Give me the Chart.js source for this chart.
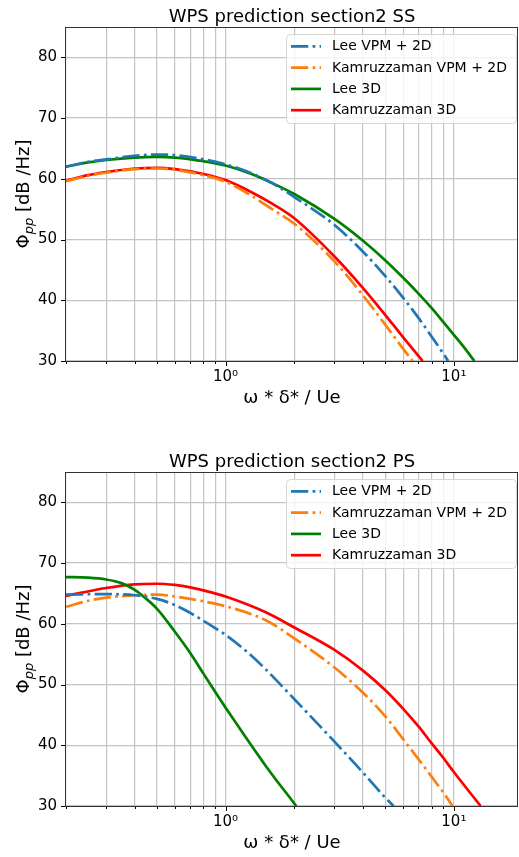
<!DOCTYPE html>
<html>
<head>
<meta charset="utf-8">
<script src="https://cdn.jsdelivr.net/npm/chart.js@4.4.0/dist/chart.umd.min.js"></script>
<style>
  html, body { margin: 0; padding: 0; background: #fff; }
  #wrap { position: relative; width: 519px; height: 857px; overflow: hidden; }
  canvas { position: absolute; left: 0; }
</style>
</head>
<body>
<div id="wrap">
  <canvas id="chart-ss" width="519" height="445" style="top:0"></canvas>
  <canvas id="chart-ps" width="519" height="412" style="top:445px"></canvas>
</div>
<script>
// ---- data ----
const seriesLabels = ['Lee VPM + 2D', 'Kamruzzaman VPM + 2D', 'Lee 3D', 'Kamruzzaman 3D'];
const xTicks = [0.2, 0.3, 0.4, 0.5, 0.6, 0.7, 0.8, 0.9, 1, 2, 3, 4, 5, 6, 7, 8, 9, 10];
const yTicks = [30, 40, 50, 60, 70, 80];

// section2 SS
const ssLeeVpmX = [0.2, 0.25, 0.3, 0.4, 0.5, 0.6, 0.8, 1.0, 1.3, 1.6, 2.0, 3.0, 4.0, 5.0, 6.0, 7.0, 8.0, 9.0, 9.44];
const ssLeeVpmY = [62.0, 62.8, 63.2, 63.8, 64.0, 63.9, 63.2, 62.4, 60.9, 59.3, 57.0, 52.4, 48.0, 44.0, 40.4, 37.1, 34.0, 31.2, 30.0];
const ssKamVpmX = [0.2, 0.25, 0.3, 0.4, 0.5, 0.6, 0.8, 1.0, 1.3, 1.6, 2.0, 3.0, 4.0, 5.0, 6.0, 6.6];
const ssKamVpmY = [59.6, 60.5, 61.0, 61.6, 61.7, 61.5, 60.6, 59.5, 57.2, 55.0, 52.6, 46.4, 40.8, 36.0, 32.0, 30.0];
const ssLee3dX = [0.2, 0.25, 0.3, 0.4, 0.5, 0.6, 0.8, 1.0, 1.3, 1.6, 2.0, 3.0, 4.0, 5.0, 6.0, 7.0, 8.0, 9.0, 10.0, 11.0, 12.3];
const ssLee3dY = [62.0, 62.7, 63.1, 63.5, 63.6, 63.5, 62.9, 62.2, 60.8, 59.3, 57.5, 53.4, 49.8, 46.6, 43.7, 41.1, 38.7, 36.4, 34.3, 32.4, 30.0];
const ssKam3dX = [0.2, 0.25, 0.3, 0.4, 0.5, 0.6, 0.8, 1.0, 1.3, 1.6, 2.0, 3.0, 4.0, 5.0, 6.0, 7.3];
const ssKam3dY = [59.7, 60.6, 61.1, 61.7, 61.8, 61.6, 60.8, 59.8, 57.8, 55.9, 53.5, 47.2, 42.0, 37.6, 33.9, 30.0];

// section2 PS
const psLeeVpmX = [0.2, 0.3, 0.4, 0.5, 0.6, 0.7, 0.8, 0.9, 1.0, 1.25, 1.5, 2.0, 3.0, 4.0, 5.0, 5.45];
const psLeeVpmY = [64.8, 64.9, 64.7, 64.1, 63.1, 61.8, 60.5, 59.3, 58.2, 55.3, 52.5, 47.6, 40.6, 35.5, 31.4, 30.0];
const psKamVpmX = [0.2, 0.25, 0.3, 0.4, 0.5, 0.6, 0.8, 1.0, 1.5, 2.0, 3.0, 4.0, 5.0, 6.0, 7.0, 8.0, 9.0, 9.87];
const psKamVpmY = [62.8, 63.8, 64.3, 64.7, 64.8, 64.5, 63.7, 62.9, 60.6, 57.6, 52.8, 48.65, 44.8, 41.0, 37.7, 34.8, 32.2, 30.0];
const psLee3dX = [0.2, 0.25, 0.3, 0.35, 0.4, 0.45, 0.5, 0.6, 0.7, 0.8, 0.9, 1.0, 1.5, 2.04];
const psLee3dY = [67.7, 67.6, 67.3, 66.7, 65.6, 64.1, 62.5, 58.7, 55.2, 51.8, 48.8, 46.2, 36.6, 30.0];
const psKam3dX = [0.2, 0.3, 0.4, 0.5, 0.6, 0.7, 0.8, 1.0, 1.5, 2.0, 3.0, 4.0, 5.0, 6.0, 7.0, 8.0, 9.0, 10.0, 13.1];
const psKam3dY = [64.6, 65.9, 66.5, 66.6, 66.4, 66.0, 65.5, 64.5, 61.9, 59.4, 55.7, 52.3, 49.1, 46.0, 43.1, 40.3, 37.9, 35.6, 30.0];

// ---- styling ----
const FONT = '"DejaVu Sans", sans-serif';
const LW = 2.7;
const DASHDOT = [6.4 * LW, 1.6 * LW, 1 * LW, 1.6 * LW];
const colors = ['#1f77b4', '#ff7f0e', '#008000', '#ff0000'];
const dashes = [DASHDOT, DASHDOT, [], []];

function pts(xs, ys) {
  return xs.map((x, i) => ({ x, y: ys[i] }));
}

function makeDatasets(series) {
  return series.map(([xs, ys], i) => ({
    label: seriesLabels[i],
    data: pts(xs, ys),
    borderColor: colors[i],
    borderWidth: LW,
    borderDash: dashes[i],
    borderCapStyle: 'butt',
    pointRadius: 0,
    tension: 0.4,
    cubicInterpolationMode: 'monotone',
    fill: false,
  }));
}

// frame, tick marks, titles and legend in matplotlib style
const decor = {
  id: 'decor',
  afterDraw(chart, args, opts) {
    const ctx = chart.ctx;
    const a = chart.chartArea;
    const sx = chart.scales.x;
    const sy = chart.scales.y;
    ctx.save();

    // tick marks
    ctx.strokeStyle = '#000';
    ctx.lineWidth = 1;
    xTicks.forEach((v) => {
      const px = Math.round(sx.getPixelForValue(v)) + 0.5;
      const len = v === 1 || v === 10 ? 5 : 3;
      ctx.beginPath();
      ctx.moveTo(px, a.bottom);
      ctx.lineTo(px, a.bottom + len);
      ctx.stroke();
    });
    yTicks.forEach((v) => {
      const py = Math.round(sy.getPixelForValue(v)) + 0.5;
      ctx.beginPath();
      ctx.moveTo(a.left - 5, py);
      ctx.lineTo(a.left, py);
      ctx.stroke();
    });

    // frame
    ctx.strokeStyle = '#333';
    ctx.strokeRect(Math.floor(a.left) - 0.5, Math.floor(a.top) + 0.5,
      Math.round(a.right - a.left), Math.round(a.bottom - a.top));

    ctx.fillStyle = '#000';
    // title
    ctx.font = '18px ' + FONT;
    ctx.textAlign = 'center';
    ctx.textBaseline = 'alphabetic';
    ctx.fillText(opts.title, (a.left + a.right) / 2, 21.5);

    // x axis title
    ctx.fillText('ω * δ* / Ue', (a.left + a.right) / 2, 403);

    // y axis title with subscript
    ctx.save();
    ctx.translate(29, (a.top + a.bottom) / 2);
    ctx.rotate(-Math.PI / 2);
    ctx.textAlign = 'left';
    const mainFont = '18px ' + FONT;
    const subFont = 'italic 13px ' + FONT;
    ctx.font = mainFont;
    const w1 = ctx.measureText('Φ').width;
    const w3 = ctx.measureText(' [dB /Hz]').width;
    ctx.font = subFont;
    const w2 = ctx.measureText('pp').width;
    const x0 = -(w1 + w2 + w3) / 2;
    ctx.font = mainFont;
    ctx.fillText('Φ', x0, 0);
    ctx.font = subFont;
    ctx.fillText('pp', x0 + w1, 4);
    ctx.font = mainFont;
    ctx.fillText(' [dB /Hz]', x0 + w1 + w2, 0);
    ctx.restore();

    // legend
    const bx = 286, by = 34, bw = 230, bh = 89;
    ctx.beginPath();
    ctx.roundRect(bx + 0.5, by + 0.5, bw, bh, 4);
    ctx.fillStyle = 'rgba(255,255,255,0.8)';
    ctx.fill();
    ctx.strokeStyle = '#d6d6d6';
    ctx.lineWidth = 1;
    ctx.stroke();
    ctx.font = '14px ' + FONT;
    ctx.textAlign = 'left';
    ctx.textBaseline = 'middle';
    chart.data.datasets.forEach((ds, i) => {
      const ry = 46.3 + i * 21.3;
      ctx.strokeStyle = ds.borderColor;
      ctx.lineWidth = LW;
      ctx.lineCap = 'butt';
      ctx.setLineDash(ds.borderDash);
      ctx.beginPath();
      ctx.moveTo(291, ry);
      ctx.lineTo(321, ry);
      ctx.stroke();
      ctx.setLineDash([]);
      ctx.fillStyle = '#000';
      ctx.fillText(ds.label, 332, ry + 0.5);
    });

    ctx.restore();
  },
};

function makeChart(id, title, series, padBottom) {
  return new Chart(document.getElementById(id), {
    type: 'line',
    data: { datasets: makeDatasets(series) },
    plugins: [decor],
    options: {
      responsive: false,
      devicePixelRatio: 1,
      animation: false,
      layout: { padding: { top: 27, left: 0, right: 1, bottom: padBottom } },
      plugins: {
        legend: { display: false },
        tooltip: { enabled: false },
        decor: { title },
      },
      scales: {
        x: {
          type: 'logarithmic',
          min: 0.2,
          max: 19.1,
          afterBuildTicks: (s) => { s.ticks = xTicks.map((v) => ({ value: v, major: v === 1 || v === 10 })); },
          afterFit: (s) => { s.height = 30; },
          ticks: {
            autoSkip: false,
            maxRotation: 0,
            padding: 7,
            color: '#000',
            font: { family: FONT, size: 15 },
            callback: (v) => (v === 1 ? '10⁰' : v === 10 ? '10¹' : ''),
          },
          grid: { color: '#c4c4c4', lineWidth: 1.2, drawTicks: false },
          border: { display: false },
        },
        y: {
          type: 'linear',
          min: 30,
          max: 85,
          afterBuildTicks: (s) => { s.ticks = yTicks.map((v) => ({ value: v })); },
          afterFit: (s) => { s.width = 66; },
          ticks: {
            padding: 9,
            color: '#000',
            font: { family: FONT, size: 15 },
          },
          grid: { color: '#c4c4c4', lineWidth: 1.2, drawTicks: false },
          border: { display: false },
        },
      },
    },
  });
}

makeChart('chart-ss', 'WPS prediction section2 SS', [
  [ssLeeVpmX, ssLeeVpmY], [ssKamVpmX, ssKamVpmY], [ssLee3dX, ssLee3dY], [ssKam3dX, ssKam3dY],
], 445 - 27 - 334 - 30);

makeChart('chart-ps', 'WPS prediction section2 PS', [
  [psLeeVpmX, psLeeVpmY], [psKamVpmX, psKamVpmY], [psLee3dX, psLee3dY], [psKam3dX, psKam3dY],
], 412 - 27 - 334 - 30);
</script>
</body>
</html>
